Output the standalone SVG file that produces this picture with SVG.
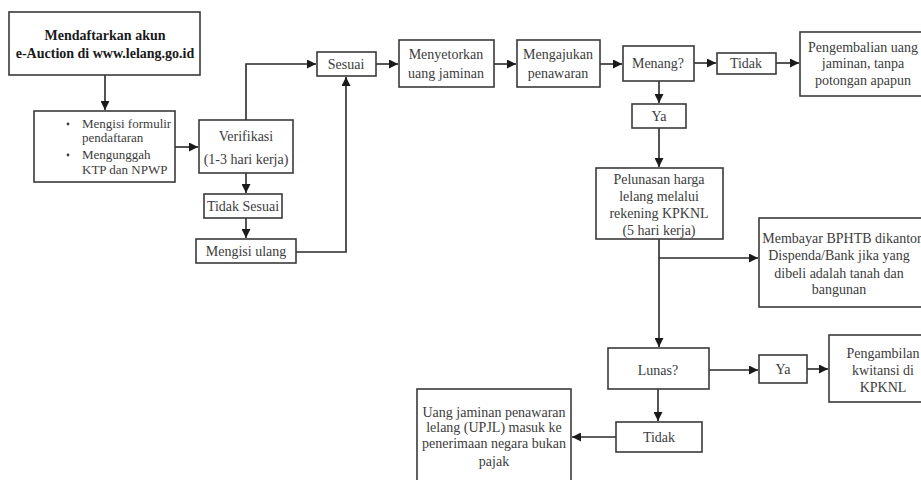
<svg xmlns="http://www.w3.org/2000/svg" width="921" height="480" viewBox="0 0 921 480">
<defs>
<marker id="ah" viewBox="0 0 10 10" refX="10" refY="5" markerWidth="9" markerHeight="9" markerUnits="userSpaceOnUse" orient="auto">
<path d="M0,0 L10,5 L0,10 z" fill="#1a1a1a"/>
</marker>
</defs>
<style>
.box{fill:#fff;stroke:#3a3a3a;stroke-width:1.6}
.t{font-family:"Liberation Serif","Times New Roman",serif;font-size:14px;fill:#3c3c3c;text-anchor:middle}
.s{font-size:13px}
.b{font-weight:bold;fill:#1a1a1a}
.l{text-anchor:start}
.c{fill:none;stroke:#2a2a2a;stroke-width:1.6;marker-end:url(#ah)}
.n{fill:none;stroke:#2a2a2a;stroke-width:1.6}
</style>
<rect width="921" height="480" fill="#fff"/>
<g id="connectors">
<path class="c" d="M105,75 V110"/>
<path class="c" d="M175,147 H198"/>
<path class="c" d="M246,120 V64 H316"/>
<path class="c" d="M246,173 V193"/>
<path class="c" d="M246,218 V238"/>
<path class="c" d="M296,252 H346 V77"/>
<path class="c" d="M376,64 H398"/>
<path class="c" d="M494,64 H516"/>
<path class="c" d="M600,64 H622"/>
<path class="c" d="M694,63 H716"/>
<path class="c" d="M776,63 H799"/>
<path class="c" d="M659,81 V103"/>
<path class="c" d="M659,128 V167"/>
<path class="c" d="M659,239 V347"/>
<path class="c" d="M659,258 H758"/>
<path class="c" d="M709,370 H758"/>
<path class="c" d="M807,369 H828"/>
<path class="c" d="M658,389 V421"/>
<path class="c" d="M616,437 H572"/>
</g>
<g id="n1">
<rect class="box" x="9" y="12" width="191" height="63"/>
<text class="t b" x="105" y="40">Mendaftarkan akun</text>
<text class="t b" x="105" y="58">e-Auction di www.lelang.go.id</text>
</g>
<g id="n2">
<rect class="box" x="34" y="111" width="141" height="71"/>
<circle cx="68" cy="124" r="1.4" fill="#3c3c3c"/>
<circle cx="68" cy="155" r="1.4" fill="#3c3c3c"/>
<text class="t s l" x="82" y="128">Mengisi formulir</text>
<text class="t s l" x="82" y="142">pendaftaran</text>
<text class="t s l" x="82" y="159">Mengunggah</text>
<text class="t s l" x="82" y="174">KTP dan NPWP</text>
</g>
<g id="n3">
<rect class="box" x="199" y="120" width="94" height="53"/>
<text class="t" x="246" y="141">Verifikasi</text>
<text class="t" x="246" y="164">(1-3 hari kerja)</text>
</g>
<g id="n4">
<rect class="box" x="204" y="194" width="78" height="24"/>
<text class="t" x="243" y="211">Tidak Sesuai</text>
</g>
<g id="n5">
<rect class="box" x="196" y="239" width="100" height="24"/>
<text class="t" x="246" y="256">Mengisi ulang</text>
</g>
<g id="n6">
<rect class="box" x="317" y="52" width="59" height="24"/>
<text class="t" x="346" y="69">Sesuai</text>
</g>
<g id="n7">
<rect class="box" x="399" y="40" width="95" height="47"/>
<text class="t" x="446" y="59">Menyetorkan</text>
<text class="t" x="446" y="78">uang jaminan</text>
</g>
<g id="n8">
<rect class="box" x="517" y="40" width="83" height="47"/>
<text class="t" x="558" y="59">Mengajukan</text>
<text class="t" x="558" y="78">penawaran</text>
</g>
<g id="n9">
<rect class="box" x="623" y="46" width="71" height="35"/>
<text class="t" x="658" y="68">Menang?</text>
</g>
<g id="n10">
<rect class="box" x="717" y="53" width="59" height="21"/>
<text class="t" x="746" y="68">Tidak</text>
</g>
<g id="n11">
<rect class="box" x="800" y="32" width="125" height="64"/>
<text class="t" x="863" y="52">Pengembalian uang</text>
<text class="t" x="863" y="68">jaminan, tanpa</text>
<text class="t" x="863" y="85">potongan apapun</text>
</g>
<g id="n12">
<rect class="box" x="632" y="104" width="54" height="24"/>
<text class="t" x="659" y="121">Ya</text>
</g>
<g id="n13">
<rect class="box" x="596" y="168" width="127" height="71"/>
<text class="t" x="659" y="184">Pelunasan  harga</text>
<text class="t" x="659" y="201">lelang melalui</text>
<text class="t" x="659" y="218">rekening KPKNL</text>
<text class="t" x="659" y="235">(5 hari kerja)</text>
</g>
<g id="n14">
<rect class="box" x="759" y="218" width="170" height="89"/>
<text class="t" x="842" y="243">Membayar BPHTB dikantor</text>
<text class="t" x="839" y="260">Dispenda/Bank jika yang</text>
<text class="t" x="839" y="278">dibeli adalah tanah dan</text>
<text class="t" x="839" y="294">bangunan</text>
</g>
<g id="n15">
<rect class="box" x="608" y="348" width="101" height="41"/>
<text class="t" x="658" y="375">Lunas?</text>
</g>
<g id="n16">
<rect class="box" x="759" y="355" width="48" height="28"/>
<text class="t" x="783" y="374">Ya</text>
</g>
<g id="n17">
<rect class="box" x="829" y="335" width="95" height="67"/>
<text class="t" x="883" y="358">Pengambilan</text>
<text class="t" x="883" y="375">kwitansi di</text>
<text class="t" x="883" y="392">KPKNL</text>
</g>
<g id="n18">
<rect class="box" x="616" y="422" width="86" height="30"/>
<text class="t" x="659" y="442">Tidak</text>
</g>
<g id="n19">
<rect class="box" x="417" y="389" width="154" height="100"/>
<text class="t" x="494" y="417">Uang jaminan penawaran</text>
<text class="t" x="494" y="432">lelang (UPJL) masuk ke</text>
<text class="t" x="494" y="448">penerimaan negara bukan</text>
<text class="t" x="494" y="466">pajak</text>
</g>
</svg>
